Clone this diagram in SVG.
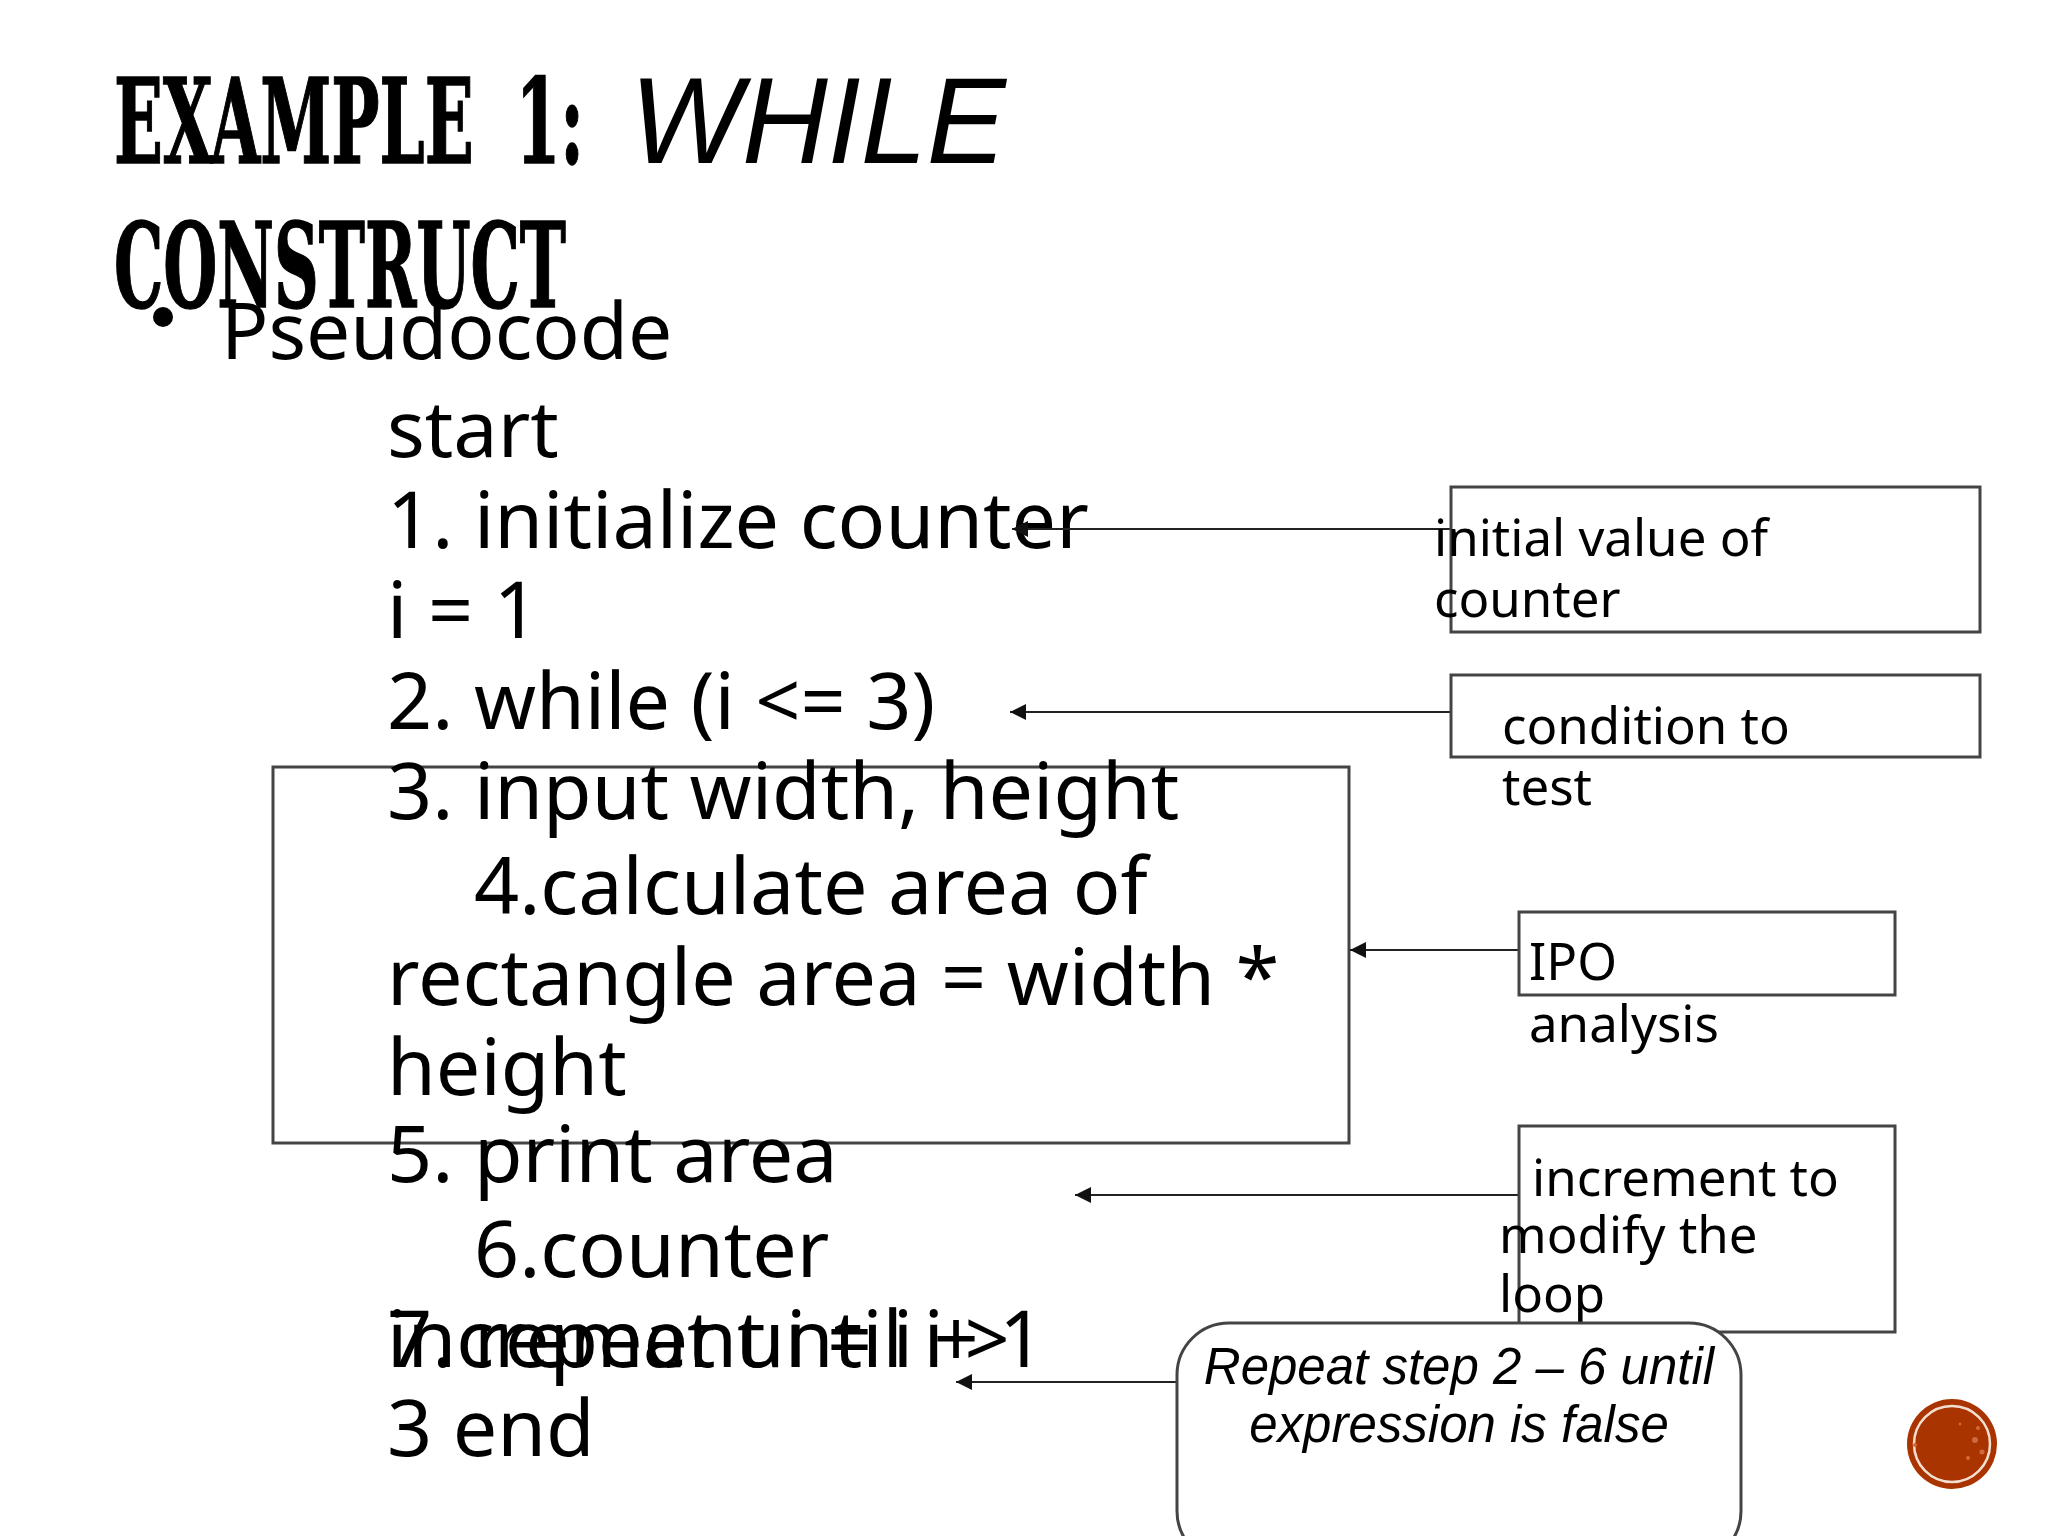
<svg xmlns="http://www.w3.org/2000/svg" width="2048" height="1536" viewBox="0 0 2048 1536">
<style>
text{fill:#000}
.t{font-family:"DejaVu Serif",serif;font-weight:700;font-size:117px;word-spacing:36px;stroke:#000;stroke-width:1.5px}
.w{font-family:"Liberation Sans",sans-serif;font-style:italic;font-size:122px}
.b{font-family:"Noto Sans","Open Sans",sans-serif;font-size:79px}
.l{font-family:"Noto Sans","Open Sans",sans-serif;font-size:51px}
.r{font-family:"Liberation Sans",sans-serif;font-style:italic;font-size:51px;text-anchor:middle}
.box{fill:none;stroke:#444;stroke-width:3px}
.c{stroke:#222;stroke-width:2px;fill:none;marker-end:url(#a)}
</style>
<defs><marker id="a" markerUnits="userSpaceOnUse" markerWidth="20" markerHeight="20" refX="17" refY="9" orient="auto"><path d="M1 1L17 9L1 17Z" fill="#111"/></marker></defs>
<rect width="2048" height="1536" fill="#fff"/>
<g id="title">
<text class="t" x="114" y="163" textLength="470" lengthAdjust="spacingAndGlyphs">EXAMPLE 1:</text>
<text class="w" x="630" y="163" textLength="376" lengthAdjust="spacingAndGlyphs">WHILE</text>
<text class="t" x="114" y="307" textLength="452" lengthAdjust="spacingAndGlyphs">CONSTRUCT</text>
</g>
<g id="body-box"><rect class="box" x="273" y="767" width="1076" height="376"/></g>
<g id="pseudocode">
<circle cx="163" cy="317" r="10" fill="#000"/>
<text class="b" x="221" y="359" font-size="78" style="font-size:78.5px">Pseudocode</text>
<text class="b" x="387" y="457">start</text>
<text class="b" x="387" y="548">1. initialize counter</text>
<text class="b" x="387" y="638">i = 1</text>
<text class="b" x="387" y="729">2. while (i &lt;= 3)</text>
<text class="b" x="387" y="819">3. input width, height</text>
<text class="b" x="474" y="914">4.calculate area of</text>
<text class="b" x="387" y="1005">rectangle area = width *</text>
<text class="b" x="387" y="1095">height</text>
<text class="b" x="387" y="1182">5. print area</text>
<text class="b" x="474" y="1277">6.counter</text>
<text class="b" x="387" y="1367">increment i = i + 1</text>
<text class="b" x="387" y="1367">7. repeat until i &gt;</text>
<text class="b" x="387" y="1456">3 end</text>
</g>
<g id="connectors">
<path class="c" d="M1451 529H1012"/>
<path class="c" d="M1451 712H1010"/>
<path class="c" d="M1519 950H1350"/>
<path class="c" d="M1519 1195H1075"/>
<path class="c" d="M1177 1382H956"/>
</g>
<g id="node-initial"><rect class="box" x="1451" y="487" width="529" height="145"/>
<text class="l" x="1434" y="556">initial value of</text><text class="l" x="1434" y="617">counter</text></g>
<g id="node-condition"><rect class="box" x="1451" y="675" width="529" height="82"/>
<text class="l" x="1502" y="744">condition to</text><text class="l" x="1502" y="805">test</text></g>
<g id="node-ipo"><rect class="box" x="1519" y="912" width="376" height="83"/>
<text class="l" x="1529" y="980">IPO</text><text class="l" x="1529" y="1042">analysis</text></g>
<g id="node-increment"><rect class="box" x="1519" y="1126" width="376" height="206"/>
<text class="l" x="1532" y="1196">increment to</text><text class="l" x="1499" y="1253">modify the</text><text class="l" x="1499" y="1312">loop</text></g>
<g id="node-repeat"><rect x="1177" y="1323" width="564" height="240" rx="52" fill="#fff" stroke="#444" stroke-width="3"/>
<text class="r" x="1459" y="1384">Repeat step 2 – 6 until</text><text class="r" x="1459" y="1442">expression is false</text></g>
<g id="badge"><circle cx="1952" cy="1444" r="45" fill="#a93400"/><circle cx="1952" cy="1444" r="38" fill="none" stroke="#f3dfd2" stroke-width="2.5"/>
<g fill="#cf6a3c"><circle cx="1975" cy="1440" r="3"/><circle cx="1982" cy="1452" r="2.5"/><circle cx="1968" cy="1458" r="2"/><circle cx="1978" cy="1428" r="2"/><circle cx="1960" cy="1424" r="1.5"/><circle cx="1915" cy="1445" r="2"/></g></g>
</svg>
